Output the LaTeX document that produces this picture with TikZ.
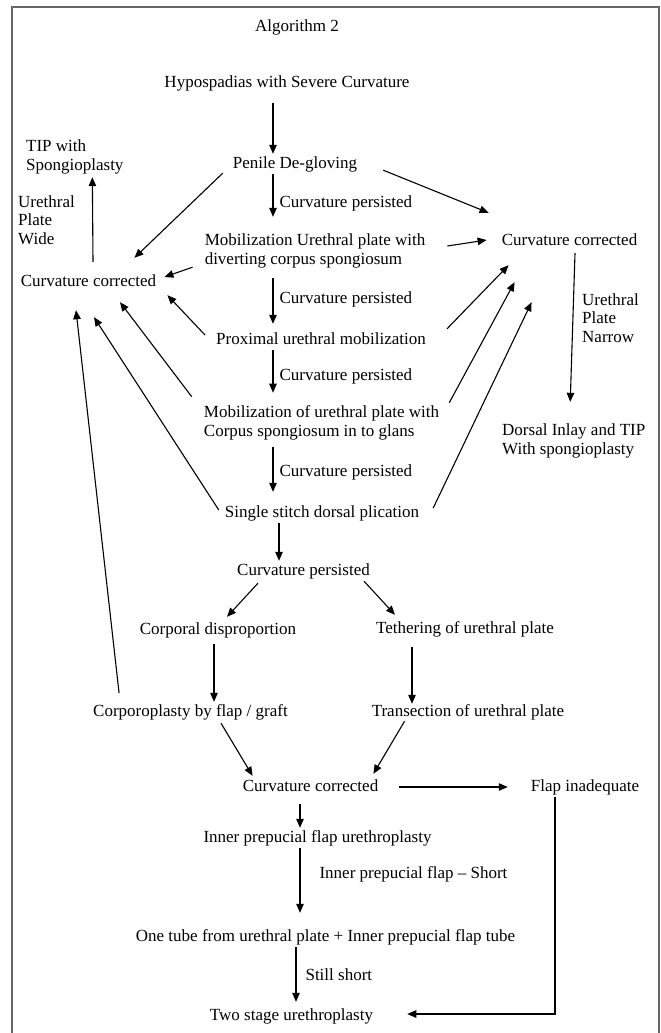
\documentclass[tikz,border=0pt]{standalone}
\usepackage{fontspec}
\setmainfont{Liberation Serif}
\usetikzlibrary{arrows.meta}

\begin{document}
\begin{tikzpicture}[x=1pt,y=-1pt,
    font=\fontsize{17pt}{18.5pt}\selectfont,
    box/.style={inner sep=2pt,text height=12pt,text depth=4pt},
    para/.style={inner sep=2pt,align=left},
    arr/.style={-{Triangle[length=9pt,width=7.5pt]},line width=1.1pt,black},
    lbl/.style={anchor=west,xshift=4pt,inner sep=2pt,text height=12pt,text depth=4pt}]

    \useasboundingbox (0,0) rectangle (661,1033);
    \draw[black!60,line width=1.8pt] (12,1045) -- (12,7) -- (659,7) -- (659,1045);

    \node[box] (0) at (297,28) {Algorithm 2};
    \node[box] (1) at (287,84) {Hypospadias with Severe Curvature};
    \node[box] (2) at (295,164) {Penile De-gloving};
    \node[para] (3) at (315,251) {Mobilization Urethral plate with\\diverting corpus spongiosum};
    \node[box] (4) at (321,340) {Proximal urethral mobilization};
    \node[para] (5) at (321.5,423) {Mobilization of urethral plate with\\Corpus spongiosum in to glans};
    \node[box] (6) at (322,513) {Single stitch dorsal plication};
    \node[box] (7) at (303.5,571) {Curvature persisted};
    \node[box] (8) at (218,630) {Corporal disproportion};
    \node[box] (9) at (465,629) {Tethering of urethral plate};
    \node[box] (10) at (190.5,712) {Corporoplasty by flap / graft};
    \node[box] (11) at (468,712) {Transection of urethral plate};
    \node[box] (12) at (310.5,787) {Curvature corrected};
    \node[box] (13) at (585,787) {Flap inadequate};
    \node[box] (14) at (317.5,838) {Inner prepucial flap urethroplasty};
    \node[box] (15) at (325.5,937) {One tube from urethral plate + Inner prepucial flap tube};
    \node[box] (16) at (291.5,1016) {Two stage urethroplasty};
    \node[box] (17) at (88.5,282) {Curvature corrected};
    \node[para,anchor=west] (18) at (24,157) {TIP with\\Spongioplasty};
    \node[para,anchor=west] (19) at (16,220) {Urethral\\Plate\\Wide};
    \node[box] (20) at (569.5,241) {Curvature corrected};
    \node[para,anchor=west] (21) at (580,318) {Urethral\\Plate\\Narrow};
    \node[para,anchor=west] (22) at (500,441) {Dorsal Inlay and TIP\\With spongioplasty};

    \coordinate (s) at (273,0);

    % main column
    \path[arr]
    (1.south -| s) edge[shorten <=9pt] (2.north -| s)
    (2.south -| s) edge[shorten >=15pt] node[lbl]{Curvature persisted} (3.north -| s)
    (3.south -| s) edge[shorten <=8pt,shorten >=6pt] node[lbl]{Curvature persisted} (4.north -| s)
    (4.south -| s) edge[shorten >=11pt] node[lbl]{Curvature persisted} (5.north -| s)
    (5.south -| s) edge[shorten <=5pt,shorten >=11pt] node[lbl]{Curvature persisted} (6.north -| s)
    ([xshift=-43pt]6.south) edge ([xshift=-24.5pt]7.north);

    % to the left curvature corrected
    \path[arr]
    ([shift={(-8,-1)}]2.south west) edge ([shift={(-24,-14)}]17.north east)
    ([shift={(-10,-3)}]3.south west) edge ([shift={(6,-5)}]17.east)
    ([shift={(-9,-5)}]4.west) edge ([shift={(9,3)}]17.south east)
    ([shift={(-10,-7)}]5.north west) edge ([shift={(31.5,10)}]17.south)
    ([shift={(-4,-3)}]6.west) edge ([shift={(5.5,25)}]17.south)
    ([shift={(28,-9)}]10.north west) edge ([shift={(-12.5,18)}]17.south)
    ([shift={(4.5,-10)}]17.north) edge ([shift={(17.5,1)}]18.south);

    % to the right curvature corrected
    \path[arr]
    ([shift={(24,-4)}]2.south east) edge ([shift={(-11,-18)}]20.north west)
    ([shift={(20,-5)}]3.east) edge ([shift={(-13,-1)}]20.west)
    ([shift={(19,-1)}]4.north east) edge ([shift={(9,14)}]20.south west)
    ([shift={(8,-1)}]5.north east) edge ([shift={(15,31)}]20.south west)
    ([shift={(12,-5)}]6.east) edge ([shift={(32,51)}]20.south west)
    ([shift={(5.5,2)}]20.south) edge ([shift={(-3.5,-20)}]22.north);

    % lower part
    \path[arr]
    ([shift={(23,2)}]7.south west) edge ([shift={(9,-3)}]8.north)
    ([shift={(-8,0)}]7.south east) edge ([shift={(21,-4)}]9.north west)
    ([shift={(-4,4)}]8.south) edge ([xshift=23.5pt]10.north)
    ([shift={(-53,8)}]9.south) edge ([shift={(-56,2)}]11.north)
    ([shift={(30.5,1)}]10.south) edge ([shift={(12,-1)}]12.north west)
    ([shift={(35,-1)}]11.south west) edge ([shift={(-7,-3)}]12.north east)
    (12.east) edge[shorten <=19pt,shorten >=21pt] (13.west)
    ([xshift=-10.5pt]12.south) edge[shorten <=7pt] ([xshift=-17.5pt]14.north)
    ([xshift=-17.5pt]14.south) edge[shorten >=14pt] node[lbl,pos=0.33,xshift=13pt]{Inner prepucial flap -- Short} ([xshift=-25.5pt]15.north)
    ([xshift=-29.5pt]15.south) edge[shorten >=4pt] node[lbl,xshift=3pt]{Still short} ([xshift=4.5pt]16.north);
    \draw[arr] ([xshift=-30pt]13.south) |- ([shift={(32,-2)}]16.east);
\end{tikzpicture}
\end{document}
